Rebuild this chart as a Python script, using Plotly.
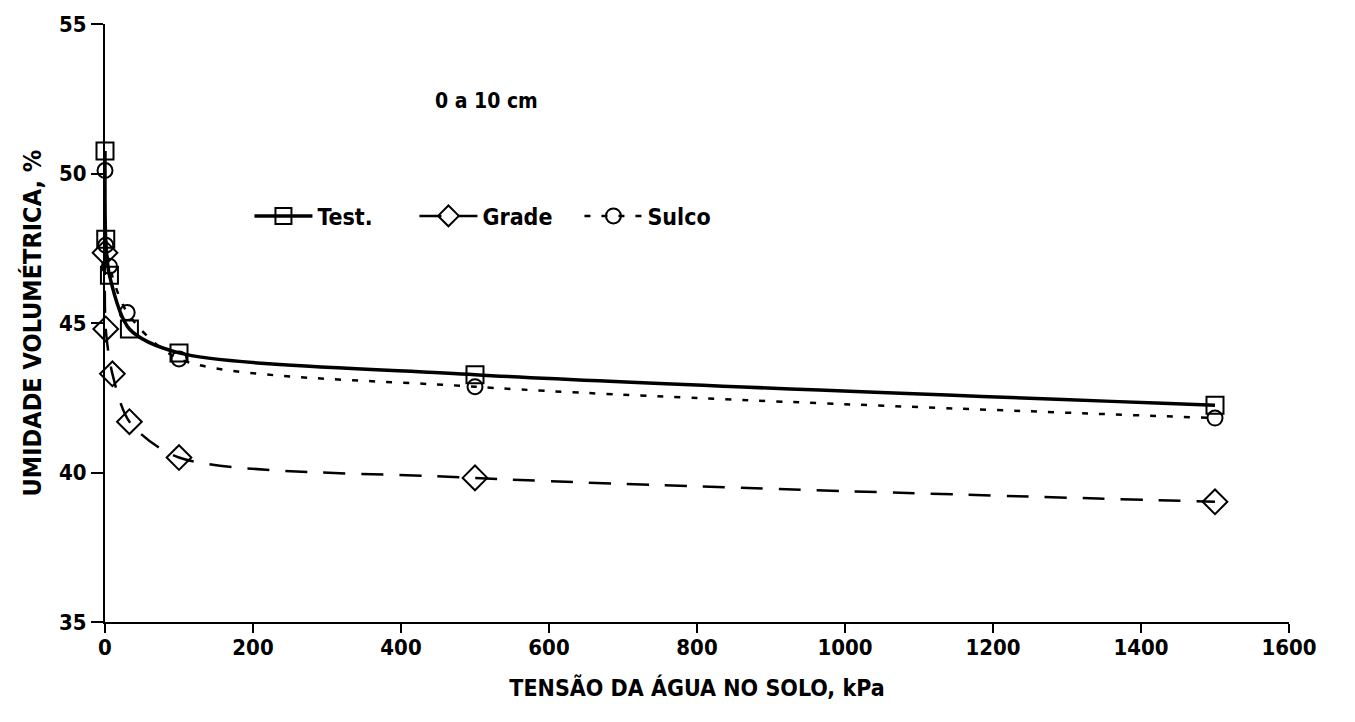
import plotly.graph_objects as go

# Water retention, 0-10 cm layer
tensao_test = [0, 1, 6, 33, 100, 500, 1500]
umidade_test = [50.75, 47.8, 46.6, 44.8, 44.0, 43.27, 42.25]

tensao_grade = [0, 1, 10, 33, 100, 500, 1500]
umidade_grade = [47.35, 44.8, 43.3, 41.7, 40.5, 39.82, 39.02]

tensao_sulco = [0, 1, 6, 30, 100, 500, 1500]
umidade_sulco = [50.1, 47.6, 46.9, 45.35, 43.8, 42.87, 41.82]

x_ticks = [0, 200, 400, 600, 800, 1000, 1200, 1400, 1600]
y_ticks = [35, 40, 45, 50, 55]

FONT = "DejaVu Sans Condensed, Liberation Sans, sans-serif"

fig = go.Figure()

fig.add_trace(go.Scatter(
    x=tensao_test, y=umidade_test, name="Test.",
    mode="lines+markers",
    line=dict(color="black", width=3.5, shape="spline", smoothing=0.8),
    marker=dict(symbol="square-open", size=17, color="black", line=dict(width=2)),
    cliponaxis=False,
))
fig.add_trace(go.Scatter(
    x=tensao_grade, y=umidade_grade, name="Grade",
    mode="lines+markers",
    line=dict(color="black", width=2.5, dash="22px,16px", shape="spline", smoothing=0.8),
    marker=dict(symbol="diamond-open", size=19, color="black", line=dict(width=2)),
    cliponaxis=False,
))
fig.add_trace(go.Scatter(
    x=tensao_sulco, y=umidade_sulco, name="Sulco",
    mode="lines+markers",
    line=dict(color="black", width=2.5, dash="6px,11px", shape="spline", smoothing=0.8),
    marker=dict(symbol="circle-open", size=15, color="black", line=dict(width=2)),
    cliponaxis=False,
))

fig.add_annotation(
    text="<b>0 a 10 cm</b>", x=0.322, y=0.872, xref="paper", yref="paper",
    xanchor="center", yanchor="middle",
    showarrow=False, font=dict(family=FONT, size=21, color="black"),
)

fig.update_layout(
    width=1355, height=722,
    margin=dict(l=105, r=66, t=20, b=100),
    paper_bgcolor="white", plot_bgcolor="white",
    showlegend=True,
    legend=dict(
        orientation="h", x=0.122, y=0.679, xanchor="left", yanchor="middle",
        font=dict(family=FONT, size=23, color="black", weight="bold"),
        bgcolor="rgba(0,0,0,0)", itemwidth=58, entrywidth=92,
        tracegroupgap=0,
    ),
    font=dict(family=FONT, color="black"),
)

fig.update_xaxes(
    range=[0, 1600], tickvals=x_ticks, ticktext=[str(v) for v in x_ticks],
    showgrid=False, zeroline=False,
    showline=True, linecolor="black", linewidth=2,
    ticks="outside", ticklen=9, tickwidth=2, tickcolor="black",
    ticklabelstandoff=-4,
    tickfont=dict(family=FONT, size=22, color="black", weight="bold"),
    title=dict(text="<b>TENSÃO DA ÁGUA NO SOLO, kPa</b>",
               font=dict(family=FONT, size=23, color="black"), standoff=20),
)
fig.update_yaxes(
    range=[35, 55], tickvals=y_ticks, ticktext=[str(v) for v in y_ticks],
    showgrid=False, zeroline=False,
    showline=True, linecolor="black", linewidth=2,
    ticks="outside", ticklen=12, tickwidth=2, tickcolor="black",
    tickfont=dict(family=FONT, size=22, color="black", weight="bold"),
    title=dict(text="<b>UMIDADE VOLUMÉTRICA, %</b>",
               font=dict(family=FONT, size=25, color="black"), standoff=10),
)

fig.write_html("out.html")
